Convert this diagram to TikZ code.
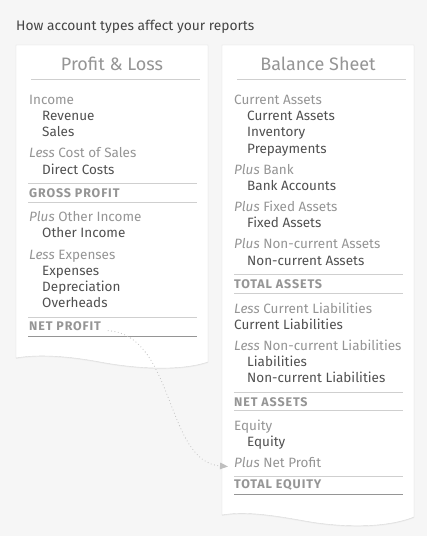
\documentclass[tikz,border=0pt]{standalone}
\usepackage{fontspec}
\setmainfont{Fira Sans}
\usetikzlibrary{arrows.meta,shadows}
\definecolor{paper}{HTML}{F6F6F6}
\definecolor{edge}{HTML}{D9D9D9}
\definecolor{soft}{HTML}{959595}
\definecolor{ink}{HTML}{505050}
\definecolor{line}{HTML}{CFCFCF}
\tikzstyle{card}=[draw=edge, fill=white, drop shadow={opacity=0.08, shadow xshift=0pt, shadow yshift=-1pt}]
\tikzstyle{sheettitle}=[inner sep=0pt, text=soft, font=\fontsize{18}{20}\selectfont]
\tikzstyle{cat}=[anchor=base west, inner sep=0pt, text=soft, font=\fontsize{13.5}{15}\selectfont]
\tikzstyle{item}=[anchor=base west, inner sep=0pt, text=ink, font=\fontsize{13.5}{15}\selectfont]
\tikzstyle{total}=[anchor=base west, inner sep=0pt, text=soft, font=\fontsize{12.5}{14}\selectfont\bfseries\addfontfeatures{LetterSpace=7}]
\tikzstyle{rule}=[draw=line, line width=0.9pt]
\tikzstyle{endrule}=[draw=soft, line width=0.9pt]
\begin{document}
\begin{tikzpicture}[x=1pt, y=-1pt]
\fill[paper] (0,0) rectangle (427,536);
\useasboundingbox (0,0) rectangle (427,536);
\node[anchor=base west, inner sep=0pt, text=ink!85!black, font=\fontsize{13.8}{16}\selectfont] (heading) at (16,30) {How account types affect your reports};

% Profit & Loss
\path[card] (16,45) -- (208,45) -- (208,362) .. controls (178,372) and (132,368) .. (100,362)
	.. controls (68,356) and (38,354) .. (16,358) -- cycle;
\node[sheettitle] (pl) at (112,64) {Profit \& Loss};
\draw[rule] (31,79) -- (200,79);
\node[cat]  (income) at (29,104) {Income};
\node[item] (revenue) at (42,120) {Revenue};
\node[item] (sales) at (42,136) {Sales};
\node[cat]  (cos) at (29,157) {\itshape Less\upshape\ Cost of Sales};
\node[item] (direct) at (42,174) {Direct Costs};
\draw[rule] (28,183) -- (197,183);
\node[total] (gp) at (29,197.5) {GROSS PROFIT};
\draw[rule] (28,202) -- (197,202);
\node[cat]  (oi) at (29,221) {\itshape Plus\upshape\ Other Income};
\node[item] (other) at (42,237) {Other Income};
\node[cat]  (exp) at (29,259) {\itshape Less\upshape\ Expenses};
\node[item] (expenses) at (42,275) {Expenses};
\node[item] (deprec) at (42,291) {Depreciation};
\node[item] (overheads) at (42,307) {Overheads};
\draw[rule] (28,317) -- (197,317);
\node[total] (np) at (29,330.5) {NET PROFIT};
\draw[endrule] (28,336) -- (197,336);

% Balance Sheet
\path[card] (222,45) -- (414,45) -- (414,517) .. controls (384,529) and (338,527) .. (305,521)
	.. controls (272,515) and (244,511) .. (222,515) -- cycle;
\node[sheettitle] (bs) at (318,64) {Balance Sheet};
\draw[rule] (237,79) -- (406,79);
\node[cat]  (ca) at (234,104) {Current Assets};
\node[item] (curassets) at (247,120) {Current Assets};
\node[item] (inventory) at (247,136) {Inventory};
\node[item] (prepay) at (247,153) {Prepayments};
\node[cat]  (bank) at (234,174) {\itshape Plus\upshape\ Bank};
\node[item] (bankacc) at (247,190) {Bank Accounts};
\node[cat]  (fa) at (234,211) {\itshape Plus\upshape\ Fixed Assets};
\node[item] (fixed) at (247,227) {Fixed Assets};
\node[cat]  (nca) at (234,248) {\itshape Plus\upshape\ Non-current Assets};
\node[item] (noncur) at (247,265) {Non-current Assets};
\draw[rule] (234,274) -- (403,274);
\node[total] (ta) at (234,288.5) {TOTAL ASSETS};
\draw[rule] (234,293) -- (403,293);
\node[cat]  (cl) at (234,313) {\itshape Less\upshape\ Current Liabilities};
\node[item] (curliab) at (234,329) {Current Liabilities};
\node[cat]  (ncl) at (234,350) {\itshape Less\upshape\ Non-current Liabilities};
\node[item] (liab) at (247,366) {Liabilities};
\node[item] (ncliab) at (247,382) {Non-current Liabilities};
\draw[rule] (234,392) -- (403,392);
\node[total] (na) at (234,406.5) {NET ASSETS};
\draw[rule] (234,410) -- (403,410);
\node[cat]  (eq) at (234,430) {Equity};
\node[item] (equity) at (247,446) {Equity};
\node[cat]  (pnp) at (234,467) {\itshape Plus\upshape\ Net Profit};
\draw[rule] (234,476) -- (403,476);
\node[total] (te) at (234,488.5) {TOTAL EQUITY};
\draw[endrule] (234,494) -- (403,494);

% net profit carried over
\draw[line cap=round, dash pattern=on 0pt off 3.4pt, line width=1.1pt, draw=soft!60,
	-{Triangle[length=8pt, width=6.5pt, fill=soft!60]}]
	([xshift=7pt, yshift=-4.5pt]np.east) .. controls (175,335) and (165,462) .. ([xshift=-6pt, yshift=-4.5pt]pnp.west);
\end{tikzpicture}
\end{document}
